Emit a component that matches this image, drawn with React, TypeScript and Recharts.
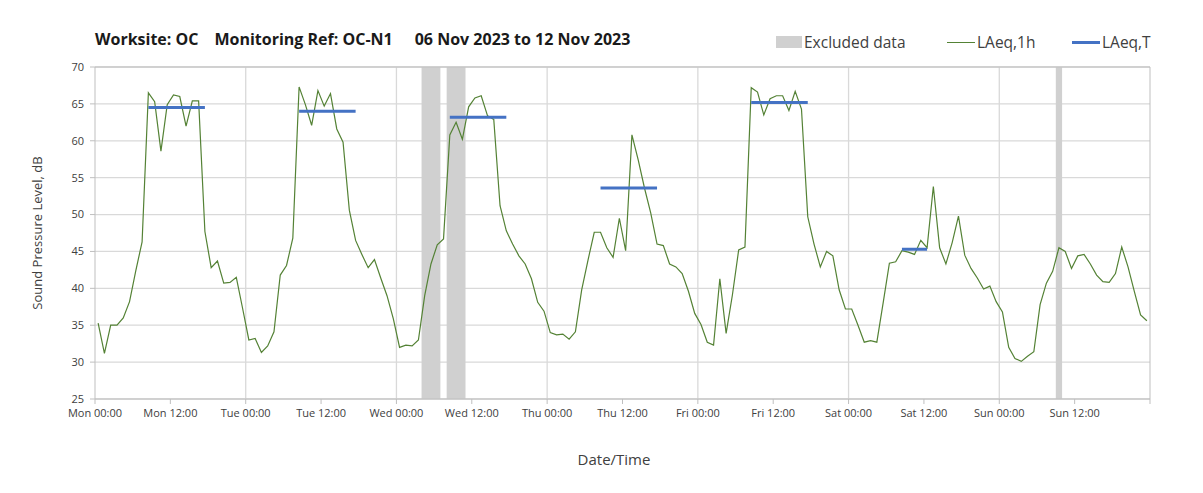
import {
  ComposedChart,
  Line,
  XAxis,
  YAxis,
  CartesianGrid,
  ReferenceArea,
  ReferenceLine,
} from "recharts";

// hourly LAeq,1h readings, Mon 00:00 .. Sun 23:00
const laeq1h = [
  35.3, 31.2, 35.0, 35.0, 36.0, 38.2, 42.4, 46.3, 66.5, 65.3, 58.6, 64.9, 66.2, 66.0, 62.0, 65.4, 65.4, 47.7, 42.8, 43.7, 40.7, 40.8, 41.5, 37.3,
  33.0, 33.2, 31.3, 32.2, 34.1, 41.8, 43.1, 46.8, 67.3, 64.9, 62.1, 66.8, 64.7, 66.4, 61.6, 59.8, 50.6, 46.5, 44.6, 42.8, 43.9, 41.4, 39.0, 35.9,
  32.0, 32.3, 32.2, 33.0, 39.0, 43.3, 45.9, 46.7, 60.8, 62.5, 60.2, 64.6, 65.8, 66.1, 63.4, 62.9, 51.2, 47.8, 46.0, 44.4, 43.3, 41.3, 38.1, 36.9,
  34.0, 33.7, 33.8, 33.1, 34.1, 39.8, 43.8, 47.6, 47.6, 45.5, 44.2, 49.5, 45.1, 60.8, 57.4, 53.6, 50.2, 46.0, 45.8, 43.3, 42.9, 42.0, 39.6, 36.6,
  35.1, 32.7, 32.3, 41.3, 33.9, 39.1, 45.2, 45.6, 67.2, 66.6, 63.5, 65.7, 66.1, 66.1, 64.1, 66.7, 64.3, 49.7, 46.0, 42.9, 45.0, 44.4, 39.8, 37.2,
  37.2, 35.0, 32.7, 32.9, 32.7, 38.0, 43.4, 43.6, 45.1, 44.9, 44.6, 46.5, 45.5, 53.8, 45.5, 43.3, 46.2, 49.8, 44.5, 42.7, 41.4, 39.9, 40.3, 38.2,
  36.8, 32.0, 30.5, 30.1, 30.8, 31.4, 37.8, 40.7, 42.3, 45.5, 45.0, 42.7, 44.4, 44.6, 43.3, 41.8, 40.9, 40.8, 42.0, 45.6, 42.9, 39.6, 36.4, 35.6,
];

// LAeq,T for each daytime period (hour index of first and last reading)
const periodStart = [8, 32, 56, 80, 104, 128];
const periodEnd = [17, 41, 65, 89, 113, 132];
const laeqT = [64.5, 64.0, 63.2, 53.6, 65.2, 45.3];

// excluded data, hours from Mon 00:00
const excludedStart = [52, 56, 153];
const excludedEnd = [55, 59, 154];

const tickLabels = [
  "Mon 00:00", "Mon 12:00", "Tue 00:00", "Tue 12:00", "Wed 00:00", "Wed 12:00", "Thu 00:00",
  "Thu 12:00", "Fri 00:00", "Fri 12:00", "Sat 00:00", "Sat 12:00", "Sun 00:00", "Sun 12:00",
];
const yTicks = [25, 30, 35, 40, 45, 50, 55, 60, 65, 70];

const periodValue = (i: number) => {
  for (let k = 0; k < laeqT.length; k++) {
    if (i >= periodStart[k] && i <= periodEnd[k]) return laeqT[k];
  }
  return null;
};

const data = laeq1h.map((v, i) => ({ t: i + 0.5, l1h: v, lt: periodValue(i) }));

const xTicks = Array.from({ length: 15 }, (_, i) => i * 12);
const dayLines = [24, 48, 72, 96, 120, 144];

const FONT = "'Open Sans', 'Noto Sans', sans-serif";
const GREEN = "#548235";
const BLUE = "#4472C4";

export default function App() {
  return (
    <div style={{ position: "relative", width: 1203, height: 493, background: "#fff", fontFamily: FONT, color: "#404040" }}>
      <style>{"body{margin:0}"}</style>
      <ComposedChart width={1203} height={493} data={data} margin={{ top: 67, right: 53, bottom: 64, left: 0 }}>
        <CartesianGrid vertical={false} stroke="#d9d9d9" strokeWidth={1.3} />
        {dayLines.map((d) => (
          <ReferenceLine key={d} x={d} stroke="#d9d9d9" strokeWidth={1.3} />
        ))}
        <ReferenceLine y={70} stroke="#bfbfbf" />
        <ReferenceLine x={168} stroke="#bfbfbf" />
        {excludedStart.map((s, i) => (
          <ReferenceArea key={s} x1={s} x2={excludedEnd[i]} y1={25} y2={70} fill="#d0d0d0" fillOpacity={1} stroke="none" />
        ))}
        <XAxis
          dataKey="t"
          type="number"
          domain={[0, 168]}
          ticks={xTicks}
          interval={0}
          tickFormatter={(v: number) => tickLabels[v / 12] ?? ""}
          height={30}
          tickSize={5}
          tickMargin={5}
          stroke="#bfbfbf"
          tick={{ fontSize: 11, fill: "#404040", fontFamily: FONT }}
        />
        <YAxis
          type="number"
          domain={[25, 70]}
          ticks={yTicks}
          interval={0}
          width={95}
          tickSize={5}
          tickMargin={6}
          stroke="#bfbfbf"
          tick={{ fontSize: 11, fill: "#404040", fontFamily: FONT }}
        />
        <Line type="linear" dataKey="l1h" stroke={GREEN} strokeWidth={1.2} dot={false} isAnimationActive={false} />
        <Line type="linear" dataKey="lt" stroke={BLUE} strokeWidth={3} dot={false} connectNulls={false} isAnimationActive={false} />
      </ComposedChart>

      <div style={{ position: "absolute", top: 28, left: 95, fontSize: 16, fontWeight: 700, color: "#1a1a1a", whiteSpace: "nowrap" }}>
        <span>Worksite: OC</span>
        <span style={{ marginLeft: 16 }}>Monitoring Ref: OC-N1</span>
        <span style={{ marginLeft: 22 }}>06 Nov 2023 to 12 Nov 2023</span>
      </div>

      <div style={{ position: "absolute", top: 36, left: 776, width: 26, height: 12, background: "#d0d0d0" }} />
      <div style={{ position: "absolute", top: 31, left: 804, fontSize: 15.5, whiteSpace: "nowrap" }}>Excluded data</div>
      <div style={{ position: "absolute", top: 42, left: 947, width: 28, height: 1, background: GREEN }} />
      <div style={{ position: "absolute", top: 31, left: 977, fontSize: 15.5, whiteSpace: "nowrap" }}>LAeq,1h</div>
      <div style={{ position: "absolute", top: 41, left: 1072, width: 28, height: 3, background: BLUE }} />
      <div style={{ position: "absolute", top: 31, left: 1102, fontSize: 15.5, whiteSpace: "nowrap" }}>LAeq,T</div>

      <div
        style={{
          position: "absolute",
          left: 37,
          top: 233,
          transform: "translate(-50%, -50%) rotate(-90deg)",
          fontSize: 13,
          whiteSpace: "nowrap",
        }}
      >
        Sound Pressure Level, dB
      </div>
      <div style={{ position: "absolute", left: 614, top: 459, transform: "translate(-50%, -50%)", fontSize: 15, whiteSpace: "nowrap" }}>
        Date/Time
      </div>
    </div>
  );
}
